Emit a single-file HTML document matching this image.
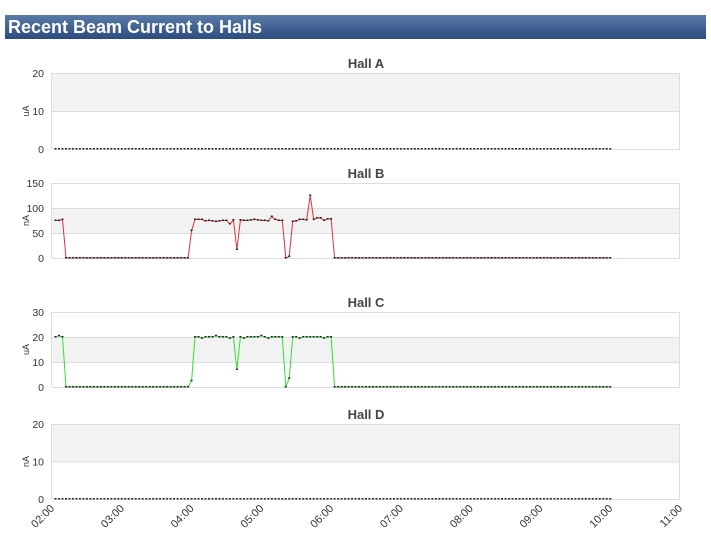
<!DOCTYPE html>
<html><head><meta charset="utf-8"><style>
body{margin:0;width:711px;height:544px;background:#fff;overflow:hidden;font-family:"Liberation Sans",sans-serif}
#hdr{position:absolute;left:5px;top:15px;width:701px;height:24px;background:linear-gradient(#5a7aa8,#2c4c80);color:#fff;font-weight:bold;font-size:18px;line-height:24px;padding-left:3px;box-sizing:border-box}
svg{position:absolute;left:0;top:0}
</style></head><body>
<div id="hdr">Recent Beam Current to Halls</div>
<svg id="c" width="711" height="544"></svg>
<script>
const tickLabels=["02:00","03:00","04:00","05:00","06:00","07:00","08:00","09:00","10:00","11:00"];
const startMinute=3, stepMinutes=3;
const hallA=[
0,0,0,0,0,0,0,0,0,0, 0,0,0,0,0,0,0,0,0,0, 0,0,0,0,0,0,0,0,0,0, 0,0,0,0,0,0,0,0,0,0,
0,0,0,0,0,0,0,0,0,0, 0,0,0,0,0,0,0,0,0,0, 0,0,0,0,0,0,0,0,0,0, 0,0,0,0,0,0,0,0,0,0,
0,0,0,0,0,0,0,0,0,0, 0,0,0,0,0,0,0,0,0,0, 0,0,0,0,0,0,0,0,0,0, 0,0,0,0,0,0,0,0,0,0,
0,0,0,0,0,0,0,0,0,0, 0,0,0,0,0,0,0,0,0,0, 0,0,0,0,0,0,0,0,0,0, 0,0,0,0,0,0,0,0,0,0];
const hallB=[75,75,77,
0,0,0,0,0,0,0,0,0,0, 0,0,0,0,0,0,0,0,0,0, 0,0,0,0,0,0,0,0,0,0, 0,0,0,0,0,0,
55,77,77,77,74,75,74,73,74,75,75,68,76,17,76,75,75,76,77,76,75,75,74,83,77,75,75,0,3,73,74,77,77,76,125,77,80,80,75,78,78,
0,0,0,0,0,0,0,0,0,0, 0,0,0,0,0,0,0,0,0,0, 0,0,0,0,0,0,0,0,0,0, 0,0,0,0,0,0,0,0,0,0,
0,0,0,0,0,0,0,0,0,0, 0,0,0,0,0,0,0,0,0,0, 0,0,0,0,0,0,0,0,0,0, 0,0,0,0,0,0,0,0,0,0];
const hallC=[20,20.5,20,
0,0,0,0,0,0,0,0,0,0, 0,0,0,0,0,0,0,0,0,0, 0,0,0,0,0,0,0,0,0,0, 0,0,0,0,0,0,
2.5,20,20,19.5,20,20,20,20.5,20,20,20,19.5,20,7,20,19.5,20,20,20,20,20.5,20,19.5,20,20,20,20,0,3.5,20,20,19.5,20,20,20,20,20,20,19.5,20,20,
0,0,0,0,0,0,0,0,0,0, 0,0,0,0,0,0,0,0,0,0, 0,0,0,0,0,0,0,0,0,0, 0,0,0,0,0,0,0,0,0,0,
0,0,0,0,0,0,0,0,0,0, 0,0,0,0,0,0,0,0,0,0, 0,0,0,0,0,0,0,0,0,0, 0,0,0,0,0,0,0,0,0,0];
const hallD=[
0,0,0,0,0,0,0,0,0,0, 0,0,0,0,0,0,0,0,0,0, 0,0,0,0,0,0,0,0,0,0, 0,0,0,0,0,0,0,0,0,0,
0,0,0,0,0,0,0,0,0,0, 0,0,0,0,0,0,0,0,0,0, 0,0,0,0,0,0,0,0,0,0, 0,0,0,0,0,0,0,0,0,0,
0,0,0,0,0,0,0,0,0,0, 0,0,0,0,0,0,0,0,0,0, 0,0,0,0,0,0,0,0,0,0, 0,0,0,0,0,0,0,0,0,0,
0,0,0,0,0,0,0,0,0,0, 0,0,0,0,0,0,0,0,0,0, 0,0,0,0,0,0,0,0,0,0, 0,0,0,0,0,0,0,0,0,0];
const panels=[
 {name:"Hall A",unit:"uA",top:73,bot:149,max:20,ticks:[0,10,20],band:[10,20],data:hallA,color:null},
 {name:"Hall B",unit:"nA",top:183,bot:258,max:150,ticks:[0,50,100,150],band:[50,100],data:hallB,color:"#e0303a"},
 {name:"Hall C",unit:"uA",top:312,bot:387,max:30,ticks:[0,10,20,30],band:[10,20],data:hallC,color:"#33dd33"},
 {name:"Hall D",unit:"nA",top:424,bot:499,max:20,ticks:[0,10,20],band:[10,20],data:hallD,color:null}];
const X0=52,X1=680,NS="http://www.w3.org/2000/svg",svg=document.getElementById('c');
const xs=m=>X0+m/540*(X1-X0);
function el(t,a,p){const e=document.createElementNS(NS,t);for(const k in a)e.setAttribute(k,a[k]);(p||svg).appendChild(e);return e;}
panels.forEach((p,pi)=>{
 const g=el('g',{});
 
 
 const ys=v=>p.bot-v/p.max*(p.bot-p.top);
 el('rect',{x:X0,y:ys(p.band[1]),width:X1-X0,height:ys(p.band[0])-ys(p.band[1]),fill:'#f2f2f2'},g);
 p.ticks.forEach(t=>{
  el('line',{x1:X0,x2:X1,y1:ys(t)+.5,y2:ys(t)+.5,stroke:'#ddd'},g);
  const tx=el('text',{x:44,y:ys(t)+4,'text-anchor':'end','font-size':10.5,fill:'#333'},g);tx.textContent=t;
 });
 el('line',{x1:X0-.5,x2:X0-.5,y1:p.top,y2:p.bot,stroke:'#ddd'},g);
 el('line',{x1:X1-.5,x2:X1-.5,y1:p.top,y2:p.bot,stroke:'#ddd'},g);
 const ti=el('text',{x:(X0+X1)/2,y:p.top-5,'text-anchor':'middle','font-size':13,'font-weight':'bold',fill:'#444'},g);ti.textContent=p.name;
 
 const yt=el('text',{x:0,y:0,'text-anchor':'middle','font-size':9,fill:'#333',transform:`translate(29,${(p.top+p.bot)/2}) rotate(-90)`},g);yt.textContent=p.unit;
 
 if(p.color){
  const pts=p.data.map((v,i)=>xs(startMinute+i*stepMinutes).toFixed(1)+','+ys(v).toFixed(1)).join(' ');
  const pl=el('polyline',{points:pts,fill:'none',stroke:p.color,'stroke-width':1},g);
  
 }
 p.data.forEach((v,i)=>{
  const d=el('rect',{x:xs(startMinute+i*stepMinutes)-1,y:ys(v)-1,width:2,height:1.5,fill:'#222'},g);
  
 });
});
tickLabels.forEach((l,i)=>{
 const x=xs(i*60);
 const t=el('text',{x:0,y:0,'text-anchor':'end','font-size':11,fill:'#333',transform:`translate(${x+3},${509}) rotate(-45)`});
 t.textContent=l;
 
});
</script>
</body></html>
